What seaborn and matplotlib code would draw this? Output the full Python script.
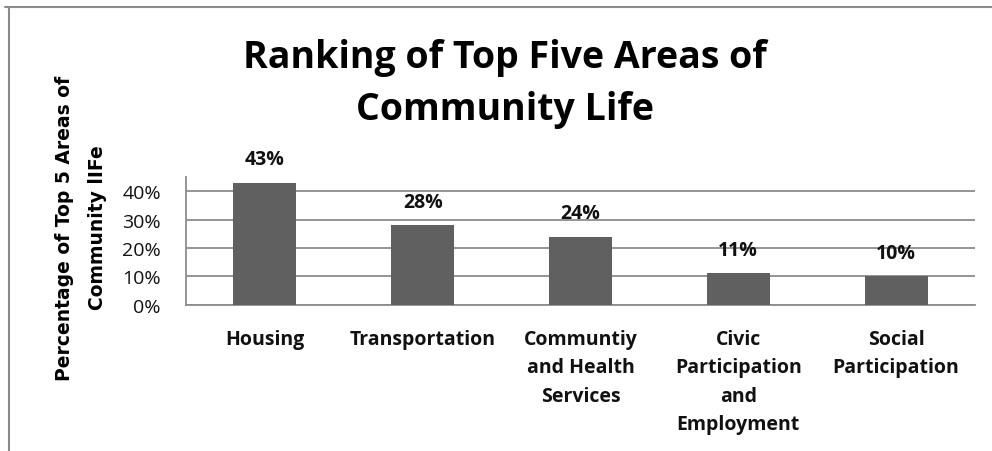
import matplotlib
matplotlib.use("Agg")
import matplotlib.pyplot as plt
import matplotlib.lines as mlines
import seaborn as sns
import pandas as pd

# Chart data
categories = [
    "Housing",
    "Transportation",
    "Communtiy\nand Health\nServices",
    "Civic\nParticipation\nand\nEmployment",
    "Social\nParticipation",
]
percentages = [43, 28, 24, 11, 10]
y_ticks = [0, 10, 20, 30, 40]
y_tick_labels = ["0%", "10%", "20%", "30%", "40%"]

title_text = "Ranking of Top Five Areas of\nCommunity Life"
ylabel_text = "Percentage of Top 5 Areas of\nCommunity lIFe"

sns.set_theme(style="white")
plt.rcParams["font.family"] = ["Open Sans", "DejaVu Sans"]

W, H = 992, 452
fig = plt.figure(figsize=(W / 100, H / 100), dpi=100)
fig.patch.set_facecolor("white")

ax = fig.add_axes([186 / W, 1 - 305.7 / H, (975 - 186) / W, (305.7 - 178) / H])

df = pd.DataFrame({"area": categories, "pct": percentages})
sns.barplot(data=df, x="area", y="pct", color="#606060", saturation=1,
            width=0.4, ax=ax, zorder=3, linewidth=0)

ax.set_ylim(0, 45)
ax.set_xlim(-0.5, len(categories) - 0.5)
ax.set_yticks(y_ticks)
ax.set_yticklabels(y_tick_labels, fontsize=14, color="#111111")
ax.yaxis.grid(True, color="#8c8c8c", linewidth=1.3, zorder=0)
ax.xaxis.grid(False)
ax.set_axisbelow(True)
ax.tick_params(axis="y", length=0, pad=18)
ax.tick_params(axis="x", length=0, pad=17.5)
for lbl in ax.get_xticklabels():
    lbl.set_fontsize(14)
    lbl.set_fontweight("bold")
    lbl.set_color("#111111")
    lbl.set_linespacing(1.56)
    lbl.set_verticalalignment("top")
ax.set_xlabel("")
ax.set_ylabel("")

for side in ["top", "right"]:
    ax.spines[side].set_visible(False)
for side in ["left", "bottom"]:
    ax.spines[side].set_color("#8c8c8c")
    ax.spines[side].set_linewidth(1.3)

# value labels above each bar
for i, v in enumerate(percentages):
    ax.annotate(f"{v}%", xy=(i, v), xytext=(0, 17), textcoords="offset points",
                ha="center", va="center", fontsize=14, fontweight="bold",
                color="#111111")

# title
fig.text(505 / W, 1 - 84 / H, title_text, ha="center", va="center",
         fontsize=27, fontweight="bold", color="black", linespacing=1.5)

# y-axis label
fig.text(81 / W, 1 - 228 / H, ylabel_text, ha="center", va="center",
         rotation=90, fontsize=13.5, fontweight="bold", color="black",
         family="DejaVu Sans", multialignment="center", linespacing=1.9)

# chart frame (top and left edges)
fig.add_artist(mlines.Line2D([5 / W, 1], [1 - 7.5 / H, 1 - 7.5 / H],
                             transform=fig.transFigure, color="#8a8a8a", linewidth=1.5))
fig.add_artist(mlines.Line2D([8.5 / W, 8.5 / W], [0, 1 - 7.5 / H],
                             transform=fig.transFigure, color="#8a8a8a", linewidth=1.5))

fig.savefig("out.png", dpi=100)
